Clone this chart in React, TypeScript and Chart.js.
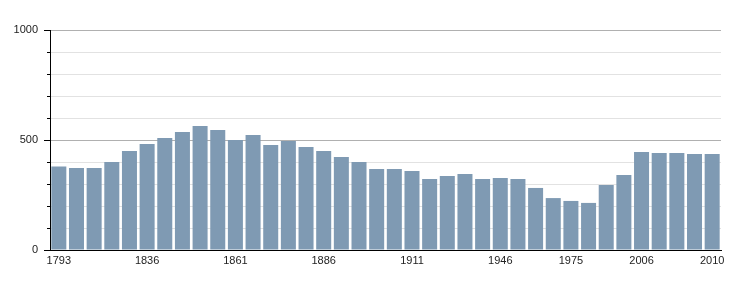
import React, { useEffect, useRef } from "react";
import { Chart, registerables } from "chart.js";

Chart.register(...registerables);

const years = [
  "1793", "1800", "1806", "1821", "1831", "1836", "1841", "1846", "1851", "1856",
  "1861", "1866", "1872", "1876", "1881", "1886", "1891", "1896", "1901", "1906",
  "1911", "1921", "1926", "1931", "1936", "1946", "1954", "1962", "1968", "1975",
  "1982", "1990", "1999", "2006", "2007", "2008", "2009", "2010",
];
const population = [
  379, 373, 373, 400, 450, 482, 509, 536, 564, 545,
  500, 523, 477, 495, 468, 450, 423, 400, 368, 368,
  359, 323, 336, 345, 323, 327, 323, 282, 236, 223,
  214, 295, 341, 445, 441, 441, 436, 436,
];
const shownYears = ["1793", "1836", "1861", "1886", "1911", "1946", "1975", "2006", "2010"];
const yLabels = [0, 500, 1000];

const yTickMarks = {
  id: "yTickMarks",
  afterDraw(chart: any) {
    const y = chart.scales.y;
    const ctx = chart.ctx;
    const x0 = chart.chartArea.left;
    ctx.save();
    ctx.strokeStyle = "#000";
    ctx.lineWidth = 1;
    y.ticks.forEach((t: any) => {
      const py = Math.round(y.getPixelForValue(t.value)) + 0.5;
      const len = t.value % 500 === 0 ? 6 : 3;
      ctx.beginPath();
      ctx.moveTo(x0 - len, py);
      ctx.lineTo(x0, py);
      ctx.stroke();
    });
    ctx.restore();
  },
};

export default function App() {
  const ref = useRef<HTMLCanvasElement>(null);
  useEffect(() => {
    document.body.style.margin = "0";
    const chart = new Chart(ref.current!, {
      type: "bar",
      data: {
        labels: years,
        datasets: [
          {
            data: population,
            backgroundColor: "rgb(127,154,179)",
            borderWidth: 0,
            categoryPercentage: 1,
            barPercentage: 0.85,
          },
        ],
      },
      options: {
        animation: false,
        responsive: false,
        maintainAspectRatio: false,
        layout: { padding: { left: 0, right: 29, top: 30, bottom: 0 } },
        plugins: { legend: { display: false }, tooltip: { enabled: false } },
        scales: {
          x: {
            grid: { drawOnChartArea: false, drawTicks: false },
            border: { display: true, color: "#000", width: 1 },
            ticks: {
              autoSkip: false,
              maxRotation: 0,
              padding: 4,
              color: "#222",
              font: { family: "Liberation Sans", size: 11 },
              callback: (v: any, i: number) => (shownYears.includes(years[i]) ? years[i] : ""),
            },
            afterFit: (s: any) => {
              s.height = 50;
            },
          },
          y: {
            min: 0,
            max: 1000,
            grid: {
              drawTicks: false,
              color: (c: any) => (c.tick && c.tick.value % 500 === 0 ? "#b0b0b0" : "#e2e2e2"),
            },
            border: { display: true, color: "#000", width: 1 },
            ticks: {
              stepSize: 100,
              padding: 12,
              color: "#222",
              font: { family: "Liberation Sans", size: 11 },
              callback: (v: any) => (yLabels.includes(Number(v)) ? String(v) : ""),
            },
            afterFit: (s: any) => {
              s.width = 50;
            },
          },
        },
      },
      plugins: [yTickMarks],
    });
    return () => chart.destroy();
  }, []);
  return (
    <div style={{ position: "absolute", left: 0, top: 0, width: 750, height: 300 }}>
      <canvas ref={ref} width={750} height={300} style={{ width: 750, height: 300 }} />
    </div>
  );
}
